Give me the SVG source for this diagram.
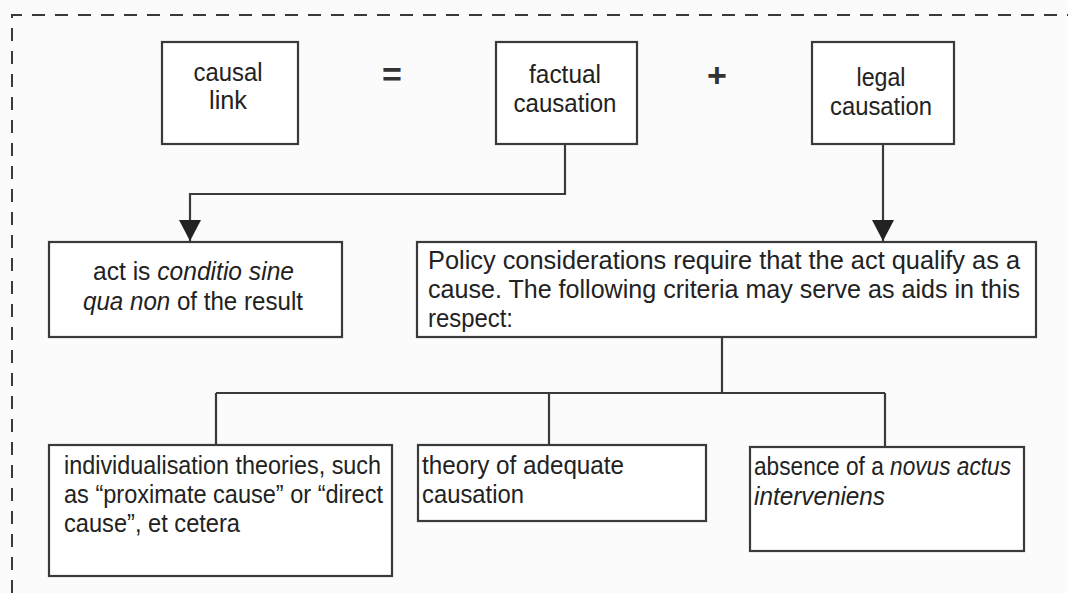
<svg xmlns="http://www.w3.org/2000/svg" width="1068" height="593" viewBox="0 0 1068 593">
<style>
.box{fill:#ffffff;stroke:#3a3a3a;stroke-width:2.2}
.t{font-family:"Liberation Sans",Arial,sans-serif;font-size:26px;fill:#222222}
.c{text-anchor:middle}
.i{font-style:italic}
.conn{fill:none;stroke:#3a3a3a;stroke-width:2.2}
.sym{font-family:"Liberation Sans",Arial,sans-serif;font-size:34px;font-weight:bold;fill:#333333;text-anchor:middle}
</style>
<defs>
<marker id="arr" viewBox="0 0 22 22" markerUnits="userSpaceOnUse" markerWidth="22" markerHeight="22" refX="21" refY="11" orient="auto">
<path d="M0,0 L21,11 L0,22 z" fill="#222222"/>
</marker>
</defs>
<rect x="0" y="0" width="1068" height="593" fill="#fbfbfb"/>
<path d="M12,593 V15 H1068" fill="none" stroke="#3a3a3a" stroke-width="2" stroke-dasharray="13 10"/>

<g id="connectors">
<path class="conn" d="M565,144 V194 H190 V241" marker-end="url(#arr)"/>
<path class="conn" d="M883,144 V241" marker-end="url(#arr)"/>
<path class="conn" d="M722,337 V393"/>
<path class="conn" d="M216,393 H885"/>
<path class="conn" d="M216,393 V445"/>
<path class="conn" d="M549,393 V445"/>
<path class="conn" d="M885,393 V447"/>
</g>

<g id="causal-link">
<rect class="box" x="162" y="42" width="136" height="102"/>
<text class="t c" x="228" y="81" textLength="69" lengthAdjust="spacingAndGlyphs">causal</text>
<text class="t c" x="228" y="109" textLength="38" lengthAdjust="spacingAndGlyphs">link</text>
</g>

<g id="equals">
<text class="sym" x="392" y="86">=</text>
</g>

<g id="factual-causation">
<rect class="box" x="496" y="42" width="141" height="102"/>
<text class="t c" x="565" y="83" textLength="72" lengthAdjust="spacingAndGlyphs">factual</text>
<text class="t c" x="565" y="112" textLength="103" lengthAdjust="spacingAndGlyphs">causation</text>
</g>

<g id="plus">
<text class="sym" x="717" y="87">+</text>
</g>

<g id="legal-causation">
<rect class="box" x="812" y="42" width="142" height="102"/>
<text class="t c" x="881" y="86" textLength="49" lengthAdjust="spacingAndGlyphs">legal</text>
<text class="t c" x="881" y="115" textLength="102" lengthAdjust="spacingAndGlyphs">causation</text>
</g>

<g id="conditio">
<rect class="box" x="49" y="242" width="293" height="95"/>
<text class="t" x="93" y="280" textLength="201" lengthAdjust="spacingAndGlyphs">act is <tspan class="i">conditio sine</tspan></text>
<text class="t" x="83" y="310" textLength="220" lengthAdjust="spacingAndGlyphs"><tspan class="i">qua non</tspan> of the result</text>
</g>

<g id="policy">
<rect class="box" x="417" y="242" width="619" height="95"/>
<text class="t" x="428" y="269" textLength="592" lengthAdjust="spacingAndGlyphs">Policy considerations require that the act qualify as a</text>
<text class="t" x="428" y="298" textLength="592" lengthAdjust="spacingAndGlyphs">cause. The following criteria may serve as aids in this</text>
<text class="t" x="428" y="327" textLength="85" lengthAdjust="spacingAndGlyphs">respect:</text>
</g>

<g id="individualisation">
<rect class="box" x="49" y="445" width="343" height="131"/>
<text class="t" x="64" y="474" textLength="317" lengthAdjust="spacingAndGlyphs">individualisation theories, such</text>
<text class="t" x="64" y="503" textLength="319" lengthAdjust="spacingAndGlyphs">as “proximate cause” or “direct</text>
<text class="t" x="64" y="532" textLength="176" lengthAdjust="spacingAndGlyphs">cause”, et cetera</text>
</g>

<g id="adequate">
<rect class="box" x="418" y="445" width="288" height="76"/>
<text class="t" x="422" y="474" textLength="202" lengthAdjust="spacingAndGlyphs">theory of adequate</text>
<text class="t" x="422" y="503" textLength="102" lengthAdjust="spacingAndGlyphs">causation</text>
</g>

<g id="novus-actus">
<rect class="box" x="750" y="447" width="274" height="104"/>
<text class="t" x="754" y="475" textLength="257" lengthAdjust="spacingAndGlyphs">absence of a <tspan class="i">novus actus</tspan></text>
<text class="t i" x="754" y="505" textLength="131" lengthAdjust="spacingAndGlyphs">interveniens</text>
</g>
</svg>
